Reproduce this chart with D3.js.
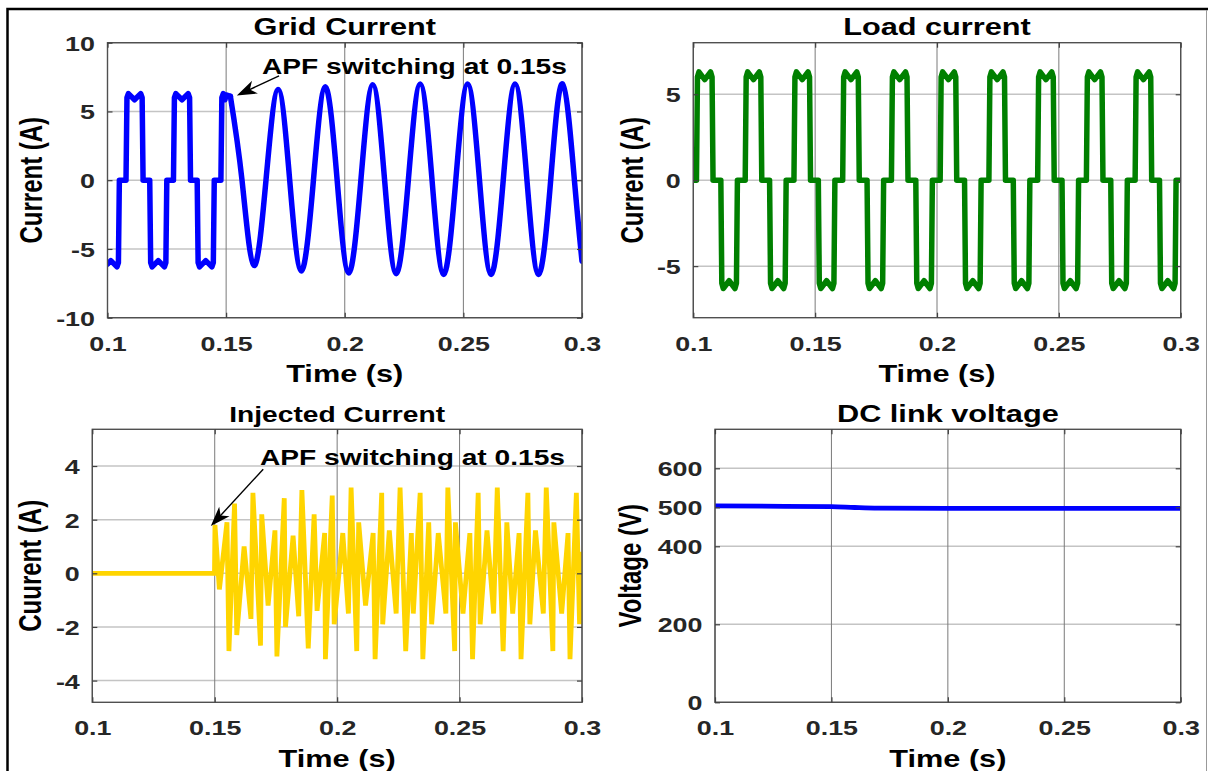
<!DOCTYPE html>
<html>
<head>
<meta charset="utf-8">
<script src="https://cdn.jsdelivr.net/npm/d3@7"></script>
<style>
body { margin: 0; background: #fff; }
svg { display: block; }
text { font-family: "Liberation Sans", Arial, sans-serif; font-weight: bold; }
</style>
</head>
<body>
<div id="chart"></div>
<script>
// ---- data ----
const timeTicks = [0.1, 0.15, 0.2, 0.25, 0.3];
const gridTicks = [-10, -5, 0, 5, 10];
const loadTicks = [-5, 0, 5];
const injTicks = [-4, -2, 0, 2, 4];
const dcTicks = [0, 200, 400, 500, 600];

// grid current before the APF starts (rectifier shape)
const gridOffT = [0.1000, 0.1014, 0.1040, 0.1046, 0.1050, 0.1078, 0.1082, 0.1088, 0.1114, 0.1140, 0.1146, 0.1150,
    0.1178, 0.1182, 0.1188, 0.1214, 0.1240, 0.1246, 0.1250, 0.1278, 0.1282, 0.1288, 0.1314, 0.1340, 0.1346, 0.1350,
    0.1378, 0.1382, 0.1388, 0.1414, 0.1440, 0.1446, 0.1450, 0.1478, 0.1482, 0.1488, 0.1495, 0.1500, 0.1518];
const gridOffI = [-6.1, -5.85, -6.3, -6.0, 0, 0, 6.0, 6.3, 5.85, 6.3, 6.0, 0,
    0, -6.0, -6.3, -5.85, -6.3, -6.0, 0, 0, 6.0, 6.3, 5.85, 6.3, 6.0, 0,
    0, -6.0, -6.3, -5.85, -6.3, -6.0, 0, 0, 6.0, 6.3, 5.85, 6.2, 6.1];

// grid current after the APF starts: peaks, troughs and zero crossings
const gridOnT = [0.1518, 0.1567, 0.1617, 0.1668, 0.1719, 0.1768, 0.1817, 0.1868, 0.1918, 0.1968,
    0.2017, 0.2068, 0.2118, 0.2168, 0.2217, 0.2268, 0.2318, 0.2368, 0.2417, 0.2468, 0.2518, 0.2568,
    0.2617, 0.2668, 0.2718, 0.2768, 0.2817, 0.2868, 0.2918, 0.2968, 0.3000];
const gridOnI = [6.1, 0, -6.2, 0, 6.6, 0, -6.6, 0, 6.8, 0,
    -6.75, 0, 6.95, 0, -6.8, 0, 7.0, 0, -6.85, 0, 7.0, 0,
    -6.85, 0, 7.0, 0, -6.85, 0, 7.0, 0, -5.9];

// load current: one period of the pulse shape and where each period starts
const loadPulseDt = [0, 0.0004, 0.0010, 0.0034, 0.0058, 0.0064, 0.0068, 0.0100, 0.0104, 0.0110, 0.0134, 0.0158, 0.0164, 0.0168, 0.0200];
const loadPulseI = [0, 6.0, 6.3, 5.85, 6.3, 6.0, 0, 0, -6.0, -6.3, -5.85, -6.3, -6.0, 0, 0];
const loadStarts = [0.0813, 0.1013, 0.1213, 0.1413, 0.1613, 0.1813, 0.2013, 0.2213, 0.2413, 0.2613, 0.2813];

// injected current
const injT = [0.1, 0.1499, 0.1501, 0.1519, 0.1550, 0.1558, 0.1581, 0.1590, 0.1620, 0.1648, 0.1656, 0.1687, 0.1692,
    0.1718, 0.1746, 0.1754, 0.1784, 0.1789, 0.1820, 0.1843, 0.1856, 0.1882, 0.1906, 0.1918, 0.1949, 0.1952,
    0.1980, 0.1988, 0.2023, 0.2046, 0.2057, 0.2080, 0.2088, 0.2116, 0.2147, 0.2155, 0.2182, 0.2186, 0.2213,
    0.2241, 0.2257, 0.2280, 0.2303, 0.2311, 0.2339, 0.2350, 0.2374, 0.2386, 0.2413, 0.2444, 0.2452, 0.2480,
    0.2483, 0.2514, 0.2542, 0.2553, 0.2576, 0.2584, 0.2612, 0.2639, 0.2654, 0.2678, 0.2693, 0.2717, 0.2743,
    0.2751, 0.2779, 0.2787, 0.2810, 0.2842, 0.2854, 0.2881, 0.2885, 0.2917, 0.2943, 0.2951, 0.2977, 0.2990, 0.3000];
const injI = [0, 0, 1.8, -0.6, 1.9, -2.9, 2.6, -2.3, 1.0, -1.7, 3.0, -2.7, 2.2,
    -1.2, 1.6, -3.1, 2.8, -2.0, 1.4, -1.6, 3.1, -2.8, 2.2, -1.4, 1.5, -3.2,
    2.9, -1.9, 1.5, -1.5, 3.2, -2.9, 1.9, -1.2, 1.5, -3.2, 3.0, -1.9, 1.6,
    -1.5, 3.2, -2.9, 1.5, -1.5, 3.0, -3.2, 1.9, -1.9, 1.5, -1.5, 3.2, -2.9,
    1.9, -1.5, 1.5, -3.2, 3.0, -1.9, 1.6, -1.5, 3.2, -2.9, 1.9, -1.5, 1.5,
    -3.2, 3.0, -1.9, 1.6, -1.5, 3.2, -2.9, 1.9, -1.5, 1.5, -3.2, 3.0, -1.9, 0.8];

// DC link voltage
const dcT = [0.1, 0.13, 0.15, 0.16, 0.17, 0.2, 0.25, 0.3];
const dcV = [503.5, 502.5, 501.5, 499.5, 498, 497, 497, 497.5];

// ---- drawing ----
const W = 1208, H = 771;
const SX = 1.28;   // the figure is stretched sideways, so is its text

const svg = d3.select("#chart").append("svg")
    .attr("width", W)
    .attr("height", H);

svg.append("rect").attr("width", W).attr("height", H).attr("fill", "#fff");

// outer frame
svg.append("path")
    .attr("d", "M7.5,780 V9 H1210")
    .attr("fill", "none")
    .attr("stroke", "#000")
    .attr("stroke-width", 2.5);
svg.append("line")
    .attr("x1", 1206.5).attr("x2", 1206.5).attr("y1", 10).attr("y2", H)
    .attr("stroke", "#999").attr("stroke-width", 1);

function label(parent, x, y, str, size, opts){
    opts = opts || {};
    return parent.append("text")
        .attr("transform", `translate(${x},${y}) scale(${SX},1)` + (opts.rotate ? " rotate(-90)" : ""))
        .attr("text-anchor", opts.anchor || "middle")
        .style("font-size", size + "px")
        .attr("fill", opts.color || "#000")
        .text(str);
}

function styleAxis(ax){
    ax.select(".domain").remove();
    ax.attr("font-family", null).attr("font-size", null);
    ax.selectAll(".tick line").attr("stroke", "#404040").attr("stroke-width", 1.2);
}

function panel(cfg){
    const x = d3.scaleLinear().domain([0.1, 0.3]).range([cfg.left, cfg.right]);
    const y = d3.scaleLinear().domain(cfg.yDomain).range([cfg.bottom, cfg.top]);
    const g = svg.append("g");
    const cx = (cfg.left + cfg.right) / 2;
    const cy = (cfg.top + cfg.bottom) / 2;

    // grid
    g.selectAll(".hgrid")
        .data(cfg.yTicks)
        .join("line")
        .attr("x1", cfg.left).attr("x2", cfg.right)
        .attr("y1", d => y(d)).attr("y2", d => y(d))
        .attr("stroke", "#c4c4c4").attr("stroke-width", 1.5);
    g.selectAll(".vgrid")
        .data(timeTicks)
        .join("line")
        .attr("x1", d => x(d)).attr("x2", d => x(d))
        .attr("y1", cfg.top).attr("y2", cfg.bottom)
        .attr("stroke", "#7a7a7a").attr("stroke-width", 1);

    // data, clipped to the axes box
    svg.append("clipPath").attr("id", "clip-" + cfg.id)
        .append("rect")
        .attr("x", cfg.left).attr("y", cfg.top)
        .attr("width", cfg.right - cfg.left).attr("height", cfg.bottom - cfg.top);
    const plot = g.append("g").attr("clip-path", `url(#clip-${cfg.id})`);
    cfg.draw(plot, x, y);

    // box
    g.append("rect")
        .attr("x", cfg.left).attr("y", cfg.top)
        .attr("width", cfg.right - cfg.left).attr("height", cfg.bottom - cfg.top)
        .attr("fill", "none").attr("stroke", "#505050").attr("stroke-width", 1.4);

    // axes with inward ticks
    const xb = g.append("g")
        .attr("transform", `translate(0,${cfg.bottom})`)
        .call(d3.axisBottom(x).tickValues(timeTicks).tickFormat(d => String(d)).tickSizeInner(-5).tickSizeOuter(0));
    styleAxis(xb);
    xb.selectAll("text")
        .attr("y", 33).attr("dy", null)
        .attr("transform", `scale(${SX},1)`)
        .attr("fill", "#262626")
        .style("font-size", "21px");

    const yl = g.append("g")
        .attr("transform", `translate(${cfg.left},0)`)
        .call(d3.axisLeft(y).tickValues(cfg.yTicks).tickFormat(d => String(d)).tickSizeInner(-5).tickSizeOuter(0));
    styleAxis(yl);
    yl.selectAll("text")
        .attr("x", -12.5 / SX).attr("y", 7.5).attr("dy", null)
        .attr("transform", `scale(${SX},1)`)
        .attr("fill", "#262626")
        .style("font-size", "21px");

    const xt = g.append("g")
        .attr("transform", `translate(0,${cfg.top})`)
        .call(d3.axisTop(x).tickValues(timeTicks).tickFormat("").tickSizeInner(-5).tickSizeOuter(0));
    styleAxis(xt);
    const yr = g.append("g")
        .attr("transform", `translate(${cfg.right},0)`)
        .call(d3.axisRight(y).tickValues(cfg.yTicks).tickFormat("").tickSizeInner(-5).tickSizeOuter(0));
    styleAxis(yr);

    // titles and labels
    label(g, cx, cfg.top - 7.7, cfg.title, cfg.titleSize);
    label(g, cx, cfg.bottom + 64.5, "Time (s)", 24);
    label(g, cfg.yLabelX, cy, cfg.yLabel, 24, {rotate: true});

    return {x, y, g};
}

function arrowNote(p, tail, tip, textAt, str){
    const x0 = p.x(tail[0]), y0 = p.y(tail[1]);
    const x1 = p.x(tip[0]), y1 = p.y(tip[1]);
    const len = Math.hypot(x1 - x0, y1 - y0);
    const ux = (x1 - x0) / len, uy = (y1 - y0) / len;
    const nx = -uy, ny = ux;
    const L = 20, w = 7;
    const bx = x1 - L * ux, by = y1 - L * uy;
    p.g.append("line")
        .attr("x1", x0).attr("y1", y0)
        .attr("x2", x1 - 10 * ux).attr("y2", y1 - 10 * uy)
        .attr("stroke", "#000").attr("stroke-width", 1.4);
    p.g.append("path")
        .attr("d", `M${x1},${y1} L${bx + w * nx},${by + w * ny} L${x1 - 0.72 * L * ux},${y1 - 0.72 * L * uy} L${bx - w * nx},${by - w * ny} Z`)
        .attr("fill", "#000");
    label(p.g, p.x(textAt[0]), p.y(textAt[1]), str, 22, {anchor: "start"});
}

const pts = (ts, vs) => ts.map((t, i) => ({t: t, v: vs[i]}));

// Grid current
const gridPanel = panel({
    id: "grid", left: 107.5, right: 582, top: 42.7, bottom: 317.7,
    yDomain: [-10, 10], yTicks: gridTicks,
    title: "Grid Current", titleSize: 24, yLabel: "Current (A)", yLabelX: 42,
    draw: (plot, x, y) => {
        const lin = d3.line().x(d => x(d.t)).y(d => y(d.v));
        const smooth = d3.line().x(d => x(d.t)).y(d => y(d.v)).curve(d3.curveNatural);
        plot.append("path").datum(pts(gridOffT, gridOffI))
            .attr("d", lin).attr("fill", "none").attr("stroke", "#0000ff")
            .attr("stroke-width", 5.5).attr("stroke-linejoin", "round").attr("stroke-linecap", "round");
        plot.append("path").datum(pts(gridOnT, gridOnI))
            .attr("d", smooth).attr("fill", "none").attr("stroke", "#0000ff")
            .attr("stroke-width", 5.5).attr("stroke-linejoin", "round").attr("stroke-linecap", "round");
    }
});
arrowNote(gridPanel, [0.1723, 7.58], [0.1545, 6.16], [0.1651, 7.72], "APF switching at 0.15s");

// Load current
panel({
    id: "load", left: 693.3, right: 1180.7, top: 42.7, bottom: 317.7,
    yDomain: [-8, 8], yTicks: loadTicks,
    title: "Load current", titleSize: 24, yLabel: "Current (A)", yLabelX: 643,
    draw: (plot, x, y) => {
        const loadPts = [];
        loadStarts.forEach(s => {
            loadPulseDt.forEach((dt, i) => loadPts.push({t: s + dt, v: loadPulseI[i]}));
        });
        plot.append("path").datum(loadPts)
            .attr("d", d3.line().x(d => x(d.t)).y(d => y(d.v)))
            .attr("fill", "none").attr("stroke", "#008000")
            .attr("stroke-width", 5.5).attr("stroke-linejoin", "round").attr("stroke-linecap", "round");
    }
});

// Injected current
const injPanel = panel({
    id: "inj", left: 92.3, right: 582, top: 429.3, bottom: 702.3,
    yDomain: [-4.81, 5.37], yTicks: injTicks,
    title: "Injected Current", titleSize: 22, yLabel: "Cuurent (A)", yLabelX: 41,
    draw: (plot, x, y) => {
        plot.append("path").datum(pts(injT, injI))
            .attr("d", d3.line().x(d => x(d.t)).y(d => y(d.v)))
            .attr("fill", "none").attr("stroke", "#ffd500")
            .attr("stroke-width", 4.8).attr("stroke-linejoin", "miter");
    }
});
arrowNote(injPanel, [0.1698, 3.88], [0.1484, 1.76], [0.1685, 4.04], "APF switching at 0.15s");

// DC link voltage
panel({
    id: "dc", left: 715, right: 1180.7, top: 429.3, bottom: 702.3,
    yDomain: [0, 700], yTicks: dcTicks,
    title: "DC link voltage", titleSize: 24, yLabel: "Voltage (V)", yLabelX: 641,
    draw: (plot, x, y) => {
        plot.append("path").datum(pts(dcT, dcV))
            .attr("d", d3.line().x(d => x(d.t)).y(d => y(d.v)).curve(d3.curveMonotoneX))
            .attr("fill", "none").attr("stroke", "#0000ff")
            .attr("stroke-width", 4.8);
    }
});
</script>
</body>
</html>
